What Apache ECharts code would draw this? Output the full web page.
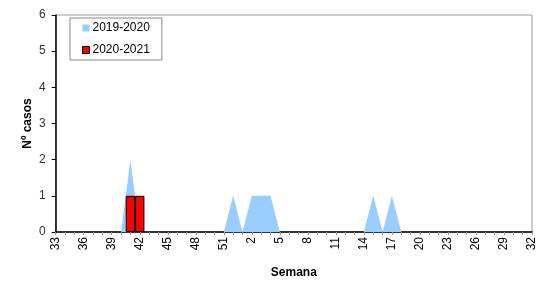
<!DOCTYPE html>
<html>
<head>
<meta charset="utf-8">
<script src="https://cdn.jsdelivr.net/npm/echarts@6/dist/echarts.min.js"></script>
<style>
  html, body { margin: 0; padding: 0; background: #fff; }
  #chart { width: 541px; height: 281px; }
</style>
</head>
<body>
<div id="chart"></div>
<script>
// semanas 33..52 y 1..32
let weeks = ['33','34','35','36','37','38','39','40','41','42','43','44','45','46','47','48','49','50','51','52',
    '1','2','3','4','5','6','7','8','9','10','11','12','13','14','15','16','17','18','19','20',
    '21','22','23','24','25','26','27','28','29','30','31','32'];

// 2019-2020 (area)
let casos1920 = [0,0,0,0,0,0,0,0,2,0,0,0,0,0,0,0,0,0,0,1,
    0,1,1,1,0,0,0,0,0,0,0,0,0,0,1,0,1,0,0,0,
    0,0,0,0,0,0,0,0,0,0,0,0];

// 2020-2021 (barras)
let casos2021 = [null,null,null,null,null,null,null,null,1,1,null,null,null,null,null,null,null,null,null,null,
    null,null,null,null,null,null,null,null,null,null,null,null,null,null,null,null,null,null,null,null,
    null,null,null,null,null,null,null,null,null,null,null,null];

let yTicks = [0, 1, 2, 3, 4, 5, 6];

let myChart = echarts.init(document.getElementById('chart'));

let option = {
    animation: false,
    backgroundColor: '#fff',
    textStyle: { fontFamily: 'Liberation Sans, Arial, sans-serif' },
    grid: {
        left: 55.7,
        right: 9,
        top: 15,
        bottom: 49,
        outerBoundsMode: 'none',
        containLabel: false,
        show: true,
        borderColor: '#999',
        borderWidth: 1,
        backgroundColor: '#fff'
    },
    legend: {
        orient: 'vertical',
        left: 70,
        top: 18,
        padding: [4, 12, 4, 12],
        itemGap: 10,
        itemWidth: 7,
        itemHeight: 7,
        borderColor: '#888',
        borderWidth: 1,
        textStyle: { fontSize: 12, color: '#000', padding: [0, 0, 0, -2] },
        data: [
            { name: '2019-2020', icon: 'rect', itemStyle: { color: '#99CCFF', borderWidth: 0 } },
            { name: '2020-2021', icon: 'rect', itemStyle: { color: '#FF0000', borderColor: '#000', borderWidth: 1 } }
        ]
    },
    xAxis: {
        type: 'category',
        data: weeks,
        boundaryGap: false,
        name: 'Semana',
        nameLocation: 'middle',
        nameGap: 35,
        nameMoveOverlap: false,
        nameTextStyle: { fontSize: 12, fontWeight: 'bold', color: '#000' },
        axisLine: { lineStyle: { color: '#000', width: 1.5 } },
        axisTick: { show: true, interval: 0, length: 3, lineStyle: { color: '#999' } },
        axisLabel: { interval: 2, rotate: 90, margin: 5, fontSize: 12, color: '#000' },
        splitLine: { show: false }
    },
    yAxis: {
        type: 'value',
        min: yTicks[0],
        max: yTicks[yTicks.length - 1],
        interval: 1,
        name: 'Nº casos',
        nameLocation: 'middle',
        nameGap: 22,
        nameMoveOverlap: false,
        nameTextStyle: { fontSize: 12, fontWeight: 'bold', color: '#000' },
        axisLine: { show: true, lineStyle: { color: '#000', width: 1.5 } },
        axisTick: { show: true, length: 4, lineStyle: { color: '#000' } },
        axisLabel: { margin: 10, fontSize: 12, color: '#333' },
        splitLine: { show: false }
    },
    series: [
        {
            name: '2019-2020',
            type: 'line',
            data: casos1920,
            symbol: 'none',
            lineStyle: { width: 0, color: '#99CCFF' },
            itemStyle: { color: '#99CCFF' },
            areaStyle: { color: '#99CCFF', opacity: 1 },
            z: 1
        },
        {
            name: '2020-2021',
            type: 'bar',
            data: casos2021,
            barCategoryGap: '0%',
            itemStyle: { color: '#FF0000', borderColor: '#000', borderWidth: 1 },
            z: 3
        }
    ]
};
myChart.setOption(option);
</script>
</body>
</html>
